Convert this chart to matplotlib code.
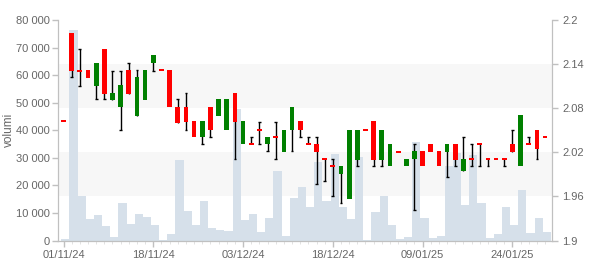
import matplotlib
matplotlib.use("Agg")
import matplotlib.pyplot as plt
from matplotlib.ticker import FuncFormatter

plt.rcParams['font.family'] = ['Liberation Sans', 'DejaVu Sans']

# prezzi giornalieri (apertura, massimo, minimo, chiusura) e volumi
opens = [2.062, 2.182, 2.131, 2.132, 2.110, 2.161, 2.091, 2.082, 2.132, 2.070,
         2.091, 2.141, 2.132, 2.132, 2.082, 2.082, 2.062, 2.041, 2.082, 2.070,
         2.050, 2.101, 2.031, 2.031, 2.050, 2.031, 2.041, 2.021, 2.050, 2.062,
         2.031, 2.032, 2.011, 2.002, 1.990, 1.956, 2.010, 2.050, 2.062, 2.010,
         2.001, 2.021, 2.001, 2.011, 2.022, 2.032, 2.022, 2.021, 2.032, 1.995,
         2.011, 2.031, 2.011, 2.011, 2.011, 2.032, 2.001, 2.031, 2.051, 2.041]
highs = [2.062, 2.182, 2.160, 2.132, 2.142, 2.161, 2.131, 2.131, 2.142, 2.132,
         2.132, 2.152, 2.132, 2.132, 2.092, 2.101, 2.062, 2.062, 2.082, 2.092,
         2.092, 2.101, 2.062, 2.041, 2.061, 2.041, 2.061, 2.051, 2.082, 2.062,
         2.041, 2.041, 2.011, 2.011, 2.002, 2.051, 2.051, 2.050, 2.062, 2.051,
         2.032, 2.021, 2.011, 2.031, 2.022, 2.032, 2.022, 2.032, 2.032, 2.041,
         2.031, 2.031, 2.011, 2.011, 2.011, 2.051, 2.071, 2.041, 2.051, 2.041]
lows = [2.062, 2.122, 2.110, 2.121, 2.092, 2.092, 2.091, 2.050, 2.100, 2.070,
        2.091, 2.131, 2.132, 2.081, 2.060, 2.050, 2.041, 2.032, 2.041, 2.070,
        2.050, 2.011, 2.031, 2.031, 2.031, 2.022, 2.011, 2.021, 2.022, 2.041,
        2.031, 1.977, 1.981, 1.960, 1.951, 1.956, 2.001, 2.050, 2.001, 2.001,
        2.001, 2.021, 2.001, 1.941, 2.001, 2.021, 2.001, 1.986, 2.001, 1.995,
        2.001, 2.001, 2.001, 2.011, 2.001, 2.021, 2.001, 2.031, 2.011, 2.041]
closes = [2.062, 2.131, 2.131, 2.121, 2.142, 2.100, 2.101, 2.111, 2.100, 2.122,
          2.132, 2.152, 2.132, 2.081, 2.060, 2.061, 2.041, 2.062, 2.050, 2.092,
          2.092, 2.061, 2.062, 2.031, 2.050, 2.041, 2.041, 2.051, 2.082, 2.050,
          2.031, 2.021, 2.011, 2.002, 2.002, 2.051, 2.051, 2.050, 2.010, 2.051,
          2.032, 2.021, 2.011, 2.022, 2.001, 2.021, 2.001, 2.032, 2.010, 2.011,
          2.011, 2.031, 2.011, 2.011, 2.011, 2.021, 2.071, 2.031, 2.024, 2.041]
volumes = [400, 76400, 16100, 7800, 9300, 5200, 1300, 13600, 6000, 9600,
           8500, 5600, 300, 2400, 29300, 10700, 5600, 14400, 4500, 3800,
           3500, 47800, 7500, 9600, 3100, 8200, 25300, 1600, 15500, 19500,
           12200, 28500, 14400, 31500, 12200, 7800, 30400, 300, 10400, 16200,
           5600, 400, 1300, 35800, 8200, 900, 1600, 27200, 31800, 12900,
           31100, 13600, 900, 2400, 12200, 5600, 18400, 2700, 8200, 3100]

date_labels = ['01/11/24', '18/11/24', '03/12/24', '18/12/24', '09/01/25', '24/01/25']
label_step = 11

vol_ticks = [0, 10000, 20000, 30000, 40000, 50000, 60000, 70000, 80000]
price_ticks = [1.9, 1.96, 2.02, 2.08, 2.14, 2.2]

grey = '#666666'
axis_col = '#c0c0c0'

fig = plt.figure(figsize=(6, 2.7), dpi=100)
ax = fig.add_axes([0.097, 0.109, 0.823, 0.817])
ax2 = ax.twinx()

n = len(closes)
xs = list(range(n))

# fasce orizzontali alternate
p0, p1 = price_ticks[0], price_ticks[-1]
for lo, hi in [(price_ticks[1], price_ticks[2]), (price_ticks[3], price_ticks[4])]:
    f0 = (lo - p0) / (p1 - p0)
    f1 = (hi - p0) / (p1 - p0)
    ax.add_patch(plt.Rectangle((0, f0), 1, f1 - f0, transform=ax.transAxes,
                               color='#f7f7f7', lw=0, zorder=0))

ax.bar([x + 0.22 for x in xs], volumes, width=1.0, color='#d6e0ea', lw=0, zorder=1)

for i in xs:
    o, h, l, c = opens[i], highs[i], lows[i], closes[i]
    top, bot = max(o, c), min(o, c)
    if h > top or l < bot:
        ax2.vlines(i, l, h, color='black', lw=1, zorder=2)
        if h > top:
            ax2.hlines(h, i - 0.17, i + 0.17, color='black', lw=1, zorder=2)
        if l < bot:
            ax2.hlines(l, i - 0.17, i + 0.17, color='black', lw=1, zorder=2)
    col = '#008000' if c > o else '#ff0000'
    hgt = top - bot
    if hgt < 0.002:
        ax2.bar(i, 0.0028, bottom=c - 0.0014, width=0.58, color='#ff0000', lw=0, zorder=3)
    else:
        ax2.bar(i, hgt, bottom=bot, width=0.58, color=col, lw=0, zorder=3)

ax.set_xlim(-0.65, n - 0.15)
ax.set_ylim(vol_ticks[0], vol_ticks[-1])
ax2.set_ylim(p0, p1)

ax.set_yticks(vol_ticks)
ax.yaxis.set_major_formatter(FuncFormatter(lambda v, p: '{:,.0f}'.format(v).replace(',', ' ')))
ax2.set_yticks(price_ticks)
ax2.set_yticklabels(['1.9', '1.96', '2.02', '2.08', '2.14', '2.2'])

ax.set_xticks([k * label_step for k in range(len(date_labels))])
ax.set_xticklabels(date_labels)
ax.set_xticks(xs, minor=True)

ax.set_ylabel('volumi', color=grey, fontsize=8.5)
ax.yaxis.set_label_coords(-0.088, 0.5)

for a in (ax, ax2):
    a.spines['top'].set_visible(False)
    for s in ('left', 'right', 'bottom'):
        a.spines[s].set_color(axis_col)
    a.tick_params(colors=grey, labelsize=8, length=4, width=1)
    a.tick_params(which='both', color=axis_col)
ax.tick_params(axis='y', pad=2)
ax.tick_params(axis='x', which='minor', length=2, color='#dddddd')
ax.tick_params(axis='x', which='major', pad=3)

fig.savefig('out.png', dpi=100)
